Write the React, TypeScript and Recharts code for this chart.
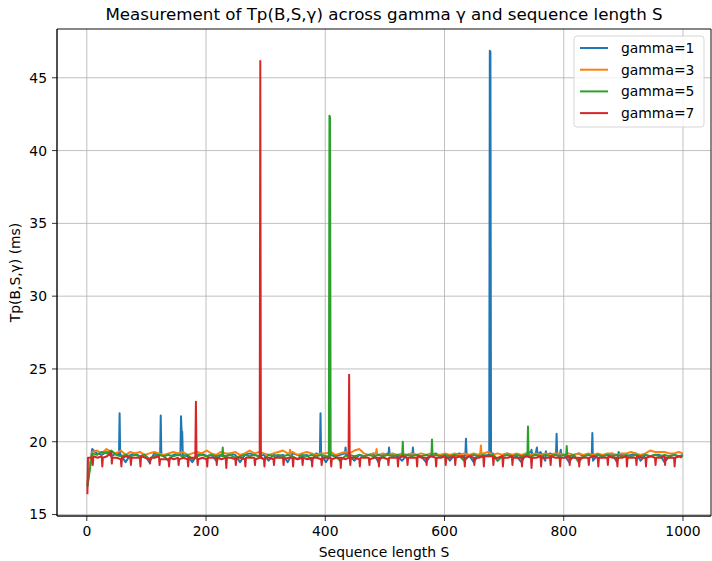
import React from "react";
import { LineChart, Line, XAxis, YAxis, CartesianGrid, ReferenceArea } from "recharts";

// ---- data ----
const seriesNames = ["gamma=1", "gamma=3", "gamma=5", "gamma=7"];
const seriesColors = ["#1f77b4", "#ff7f0e", "#2ca02c", "#d62728"];

const xTicks = [0, 200, 400, 600, 800, 1000];
const yTicks = [15, 20, 25, 30, 35, 40, 45];
const xDomain = [-50, 1047];
const yDomain = [14.9, 48.35];

// sampling positions (sequence length S)
const sampleX8 = Array.from({ length: 125 }, (_, i) => 1 + 8 * i).concat([1000]);
// red is read at four positions per 16-step cycle (around each periodic dip)
const redCycleOffsets = [2, 9, 10, 11];
const sampleXRed = [1]
  .concat(Array.from({ length: 62 }, (_, k) => redCycleOffsets.map((o) => 16 * k + o)).flat())
  .concat([994, 998]);

const blueY = [
  17.0, 19.5, 19.2, 19.1, 19.3, 19.0, 19.2, 19.1, 18.6, 19.1,
  19.2, 19.0, 19.1, 18.6, 19.2, 19.1, 19.0, 18.7, 19.1, 19.2,
  19.1, 19.0, 18.6, 19.1, 19.2, 19.0, 19.1, 18.7, 19.1, 19.0,
  19.2, 19.1, 18.6, 19.1, 19.2, 19.1, 19.0, 19.1, 18.7, 19.1,
  19.0, 19.1, 18.6, 19.2, 19.1, 19.0, 19.1, 18.7, 19.2, 19.1,
  18.6, 19.1, 19.0, 19.1, 19.2, 19.0, 18.7, 19.1, 19.0, 19.1,
  19.2, 18.6, 19.1, 19.2, 19.1, 19.0, 18.7, 19.1, 19.2, 19.1,
  19.0, 18.6, 19.1, 19.2, 19.0, 19.1, 18.7, 19.1, 19.2, 19.0,
  19.1, 18.6, 19.1, 19.0, 19.1, 19.2, 18.7, 19.1, 19.2, 19.1,
  19.0, 18.6, 19.2, 19.3, 19.2, 19.3, 18.7, 19.2, 19.1, 19.0,
  19.1, 18.6, 19.1, 19.2, 19.0, 19.1, 18.7, 19.1, 19.0, 19.1,
  19.2, 18.6, 19.1, 19.0, 19.1, 19.2, 18.7, 19.1, 19.0, 19.1,
  19.1, 18.6, 19.0, 19.1, 19.0, 19.1,
];
const blueSpikeX = [54, 55, 56, 123, 124, 125, 157, 158, 159, 160, 391, 392, 434, 435, 506, 507, 508, 546, 547, 548, 635, 636, 637, 675, 676, 677, 678, 746, 747, 755, 756, 770, 771, 787, 788, 789, 795, 796, 847, 848, 892, 894];
const blueSpikeY = [19.1, 21.95, 19.1, 19.1, 21.8, 19.1, 19.1, 21.75, 20.7, 20.7, 19.1, 21.95, 19.6, 19.1, 19.1, 19.6, 19.1, 19.1, 19.6, 19.1, 19.1, 20.2, 19.1, 19.1, 46.85, 46.8, 19.1, 19.45, 19.1, 19.6, 19.1, 19.35, 19.1, 19.1, 20.55, 19.1, 19.45, 19.1, 19.1, 20.6, 19.3, 19.1];

const orangeY = [
  17.2, 19.3, 19.4, 19.2, 19.5, 19.3, 19.2, 19.4, 19.1, 19.3,
  19.2, 19.3, 19.1, 19.2, 19.3, 19.2, 19.1, 19.2, 19.3, 19.2,
  19.3, 19.1, 19.2, 19.3, 19.2, 19.4, 19.2, 19.1, 19.3, 19.2,
  19.2, 19.3, 19.1, 19.2, 19.4, 19.2, 19.3, 19.2, 19.1, 19.2,
  19.3, 19.4, 19.2, 19.3, 19.1, 19.2, 19.3, 19.2, 19.1, 19.2,
  19.2, 19.3, 19.1, 19.2, 19.3, 19.2, 19.4, 19.5, 19.2, 19.1,
  19.2, 19.1, 19.2, 19.1, 19.2, 19.1, 19.2, 19.1, 19.2, 19.1,
  19.2, 19.1, 19.2, 19.1, 19.1, 19.2, 19.1, 19.2, 19.1, 19.2,
  19.1, 19.2, 19.1, 19.2, 19.3, 19.1, 19.2, 19.1, 19.2, 19.1,
  19.2, 19.1, 19.2, 19.1, 19.2, 19.1, 19.2, 19.1, 19.2, 19.2,
  19.1, 19.2, 19.1, 19.2, 19.1, 19.2, 19.1, 19.2, 19.1, 19.2,
  19.2, 19.1, 19.2, 19.2, 19.3, 19.2, 19.1, 19.2, 19.4, 19.3,
  19.3, 19.3, 19.2, 19.2, 19.3, 19.2,
];
const orangeSpikeX = [340, 341, 342, 485, 486, 487, 660, 661, 662];
const orangeSpikeY = [19.2, 19.45, 19.2, 19.2, 19.5, 19.2, 19.2, 19.75, 19.2];

const greenY = [
  16.9, 19.2, 19.1, 19.3, 19.2, 19.4, 19.1, 19.0, 19.1, 19.0,
  19.1, 19.0, 19.1, 18.8, 19.0, 19.1, 19.0, 19.1, 19.0, 19.1,
  19.0, 19.1, 18.8, 19.0, 19.1, 19.0, 19.1, 19.0, 19.1, 19.0,
  19.1, 18.9, 19.0, 19.1, 19.0, 19.1, 19.0, 18.8, 19.1, 19.0,
  19.1, 19.0, 19.1, 19.0, 18.8, 19.1, 19.0, 19.1, 19.0, 19.1,
  19.0, 19.1, 19.0, 18.7, 19.0, 19.1, 19.0, 19.1, 19.0, 19.1,
  19.0, 19.1, 19.0, 19.1, 19.0, 19.1, 19.0, 19.1, 19.0, 19.1,
  19.0, 19.1, 19.0, 19.1, 19.0, 19.1, 19.0, 19.1, 19.0, 18.7,
  19.0, 19.1, 19.0, 19.1, 19.0, 19.1, 18.7, 19.0, 19.1, 19.0,
  19.1, 19.0, 19.1, 19.0, 19.1, 19.0, 19.1, 19.0, 19.1, 19.0,
  19.1, 19.0, 19.1, 18.6, 19.0, 19.1, 19.0, 19.1, 19.0, 19.1,
  19.0, 19.1, 19.0, 19.1, 19.0, 19.1, 19.0, 19.1, 19.0, 19.1,
  19.0, 19.1, 19.0, 19.1, 19.0, 19.0,
];
const greenSpikeX = [227, 228, 229, 406, 407, 408, 530, 531, 578, 579, 580, 739, 740, 741, 804, 805, 806];
const greenSpikeY = [19.0, 19.6, 19.0, 19.0, 42.4, 42.3, 20.0, 19.0, 19.0, 20.15, 19.0, 19.0, 21.05, 19.0, 19.0, 19.7, 19.0];

const redY = [
  16.4,
  18.9, 18.9, 18.4, 19.0, 18.9, 19.0, 18.3, 18.9,
  19.0, 19.3, 18.5, 18.9, 18.9, 18.8, 18.3, 18.9,
  19.0, 18.9, 18.4, 18.9, 18.9, 18.9, 18.3, 19.0,
  18.9, 18.8, 18.5, 18.9, 18.9, 19.0, 18.4, 18.8,
  18.8, 18.8, 18.3, 18.9, 18.8, 18.9, 18.4, 18.8,
  18.9, 18.8, 18.3, 18.9, 18.9, 18.9, 18.4, 18.8,
  18.9, 18.8, 18.3, 18.9, 18.9, 18.9, 18.4, 18.9,
  18.8, 18.9, 18.2, 18.9, 18.9, 18.8, 18.4, 18.9,
  18.9, 18.8, 18.3, 18.9, 18.9, 18.9, 18.4, 18.8,
  18.9, 18.8, 18.3, 18.9, 18.9, 18.8, 18.4, 18.9,
  18.9, 18.9, 18.4, 18.8, 18.9, 18.9, 18.3, 18.9,
  18.8, 18.9, 18.4, 18.9, 18.8, 18.9, 18.3, 18.9,
  18.9, 18.8, 18.4, 18.9, 18.9, 18.9, 18.3, 18.8,
  18.9, 18.9, 18.2, 18.9, 18.8, 18.9, 18.4, 18.9,
  18.9, 18.8, 18.3, 18.9, 18.9, 18.9, 18.4, 18.8,
  18.9, 18.9, 18.3, 18.9, 18.9, 18.8, 18.4, 18.9,
  18.9, 18.9, 18.3, 18.9, 19.0, 18.9, 18.4, 18.9,
  18.9, 18.9, 18.3, 19.0, 18.9, 18.9, 18.4, 18.9,
  19.0, 18.9, 18.3, 18.9, 18.9, 19.0, 18.4, 18.9,
  18.9, 19.0, 18.4, 18.9, 19.0, 18.9, 18.3, 18.9,
  19.0, 18.9, 18.4, 18.9, 18.9, 19.0, 18.3, 19.0,
  19.0, 19.0, 18.4, 18.9, 18.9, 19.0, 18.3, 18.9,
  18.9, 19.0, 18.4, 18.9, 18.9, 18.9, 18.3, 18.9,
  19.0, 18.9, 18.2, 18.9, 18.9, 19.0, 18.3, 18.9,
  18.9, 18.9, 18.4, 19.0, 18.9, 18.9, 18.3, 18.9,
  18.9, 19.0, 18.4, 18.9, 18.9, 18.9, 18.3, 18.9,
  18.9, 18.9, 18.4, 18.9, 19.0, 18.9, 18.3, 18.9,
  18.9, 18.9, 18.4, 19.0, 18.9, 18.9, 18.3, 18.9,
  18.9, 19.0, 18.3, 18.9, 18.9, 18.9, 18.4, 19.0,
  18.9, 18.9, 18.3, 18.9, 19.0, 18.9, 18.4, 18.9,
  18.9, 19.0, 18.4, 18.9, 18.9, 18.9, 18.3, 18.9,
  19.0, 18.9,
];
const redSpikeX = [182, 183, 184, 291, 292, 439, 440];
const redSpikeY = [18.9, 22.75, 18.9, 46.15, 18.9, 18.9, 24.6];

// ---- build point lists (sample points + spike points, sorted by S) ----
function build(xs: number[], ys: number[], sx: number[], sy: number[]) {
  const pts = xs.map((x, i) => ({ x, y: ys[i] }));
  sx.forEach((x, i) => pts.push({ x, y: sy[i] }));
  pts.sort((a, b) => a.x - b.x);
  return pts;
}

const seriesData = [
  build(sampleX8, blueY, blueSpikeX, blueSpikeY),
  build(sampleX8, orangeY, orangeSpikeX, orangeSpikeY),
  build(sampleX8, greenY, greenSpikeX, greenSpikeY),
  build(sampleXRed, redY, redSpikeX, redSpikeY),
];

const FONT = "'DejaVu Sans', Verdana, sans-serif";

export default function App() {
  return (
    <div style={{ position: "fixed", left: 0, top: 0, width: 712, height: 561, background: "#fff" }}>
      <LineChart width={712} height={561} margin={{ top: 29, right: 1, bottom: 0, left: 0 }}>
        <CartesianGrid stroke="#b0b0b0" strokeWidth={0.8} />
        <XAxis
          dataKey="x"
          type="number"
          domain={xDomain}
          ticks={xTicks}
          allowDataOverflow
          height={45}
          tickSize={5}
          tickMargin={5}
          stroke="#000"
          axisLine={{ stroke: "#000", strokeWidth: 0.8 }}
          tickLine={{ stroke: "#000", strokeWidth: 0.8 }}
          tick={{ fill: "#000", fontSize: 13.9, fontFamily: FONT }}
        />
        <YAxis
          type="number"
          domain={yDomain}
          ticks={yTicks}
          allowDataOverflow
          width={57}
          tickSize={5}
          tickMargin={5}
          stroke="#000"
          axisLine={{ stroke: "#000", strokeWidth: 0.8 }}
          tickLine={{ stroke: "#000", strokeWidth: 0.8 }}
          tick={{ fill: "#000", fontSize: 13.9, fontFamily: FONT }}
        />
        {seriesData.map((d, i) => (
          <Line
            key={seriesNames[i]}
            data={d}
            dataKey="y"
            name={seriesNames[i]}
            type="linear"
            stroke={seriesColors[i]}
            strokeWidth={2}
            strokeLinejoin="round"
            dot={false}
            activeDot={false}
            isAnimationActive={false}
          />
        ))}
        <ReferenceArea
          x1={xDomain[0]}
          x2={xDomain[1]}
          y1={yDomain[0]}
          y2={yDomain[1]}
          fill="none"
          fillOpacity={0}
          stroke="#000"
          strokeWidth={0.8}
          ifOverflow="extendDomain"
        />
      </LineChart>
      <svg
        width={712}
        height={561}
        style={{ position: "absolute", left: 0, top: 0, pointerEvents: "none" }}
        fontFamily={FONT}
      >
        <text x={384} y={19.5} textAnchor="middle" fontSize={16.7} fill="#000">
          Measurement of Tp(B,S,γ) across gamma γ and sequence length S
        </text>
        <text x={384} y={557} textAnchor="middle" fontSize={13.9} fill="#000">
          Sequence length S
        </text>
        <text x={20} y={272.5} textAnchor="middle" fontSize={13.9} fill="#000" transform="rotate(-90, 20, 272.5)">
          Tp(B,S,γ) (ms)
        </text>
        <rect x={574} y={36} width={130} height={91} rx={3} fill="#fff" fillOpacity={0.8} stroke="#cccccc" strokeWidth={0.8} />
        {seriesNames.map((n, i) => (
          <g key={n}>
            <line x1={580} x2={608} y1={48 + i * 21.7} y2={48 + i * 21.7} stroke={seriesColors[i]} strokeWidth={2} />
            <text x={621} y={53 + i * 21.7} fontSize={13.9} fill="#000">
              {n}
            </text>
          </g>
        ))}
      </svg>
    </div>
  );
}
